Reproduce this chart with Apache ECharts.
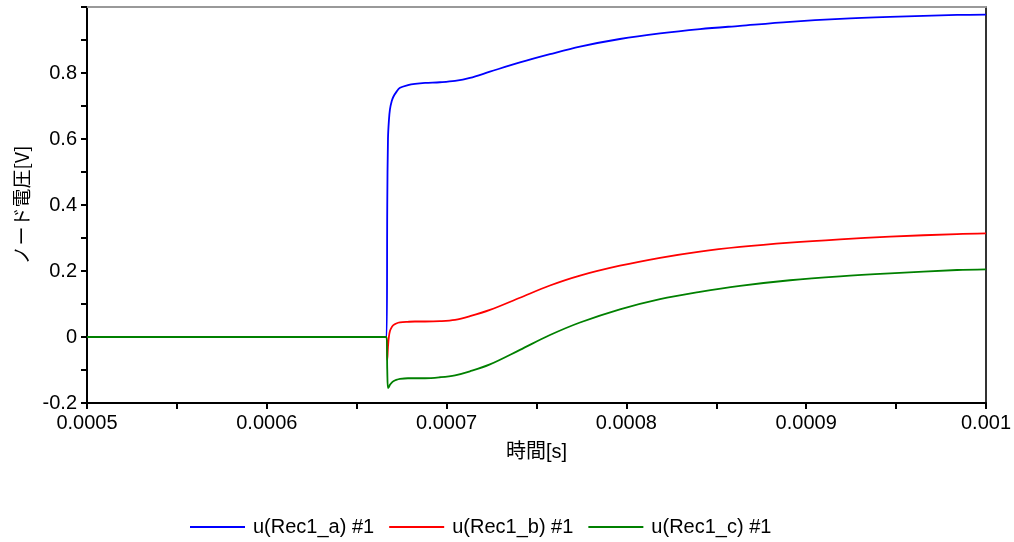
<!DOCTYPE html>
<html>
<head>
<meta charset="utf-8">
<script src="https://cdn.jsdelivr.net/npm/echarts@6/dist/echarts.min.js"></script>
<style>
html,body{margin:0;padding:0;background:#fff;}
#chart{width:1014px;height:542px;}
</style>
</head>
<body>
<div id="chart"></div>
<script>
// Time [s]
var times = [0.0005, 0.0006666, 0.0006670, 0.0006674, 0.0006679, 0.0006685, 0.0006695, 0.0006704,
  0.0006720, 0.0006741, 0.0006785, 0.0006824, 0.0006880, 0.0006963, 0.0007047, 0.0007130,
  0.0007241, 0.0007408, 0.0007575, 0.0007742, 0.0007964, 0.0008187, 0.0008409, 0.0008632,
  0.0008910, 0.0009188, 0.0009466, 0.0009839, 0.001];
// Node voltages [V]
var voltA = [0, 0, 0.40, 0.60, 0.655, 0.69, 0.715, 0.728, 0.742, 0.755, 0.763, 0.767, 0.770,
  0.772, 0.776, 0.785, 0.804, 0.832, 0.857, 0.880, 0.903, 0.920, 0.933, 0.943, 0.955,
  0.964, 0.970, 0.976, 0.977];
var voltB = [0, 0, -0.07, -0.03, 0.0, 0.018, 0.030, 0.036, 0.041, 0.044, 0.046, 0.047, 0.047,
  0.048, 0.052, 0.063, 0.082, 0.119, 0.156, 0.186, 0.216, 0.240, 0.259, 0.273, 0.286,
  0.296, 0.304, 0.312, 0.314];
var voltC = [0, 0, -0.10, -0.155, -0.152, -0.145, -0.138, -0.134, -0.130, -0.127, -0.125, -0.125, -0.125,
  -0.122, -0.116, -0.104, -0.083, -0.039, 0.006, 0.044, 0.084, 0.115, 0.137, 0.155, 0.172,
  0.184, 0.193, 0.203, 0.205];
var seriesNames = ['u(Rec1_a) #1', 'u(Rec1_b) #1', 'u(Rec1_c) #1'];
var seriesColors = ['#0000ff', '#ff0000', '#008000'];
var xName = '時間[s]';
var yName = 'ノード電圧[V]';

function zip(ys) { return times.map(function (t, i) { return [t, ys[i]]; }); }
var allVals = [voltA, voltB, voltC];

var font = '"Liberation Sans", Arial, "Noto Sans CJK JP", sans-serif';
var chart = echarts.init(document.getElementById('chart'), null, {renderer: 'canvas'});
chart.setOption({
  animation: false,
  backgroundColor: '#fff',
  grid: {left: 87, right: 28, top: 7, bottom: 139, containLabel: false},
  legend: {
    left: 190, top: 517, padding: 0,
    itemWidth: 55, itemHeight: 2, itemGap: 15,
    icon: 'rect',
    textStyle: {fontFamily: font, fontSize: 20, color: '#000', padding: [0, 0, 0, 3]},
    data: seriesNames
  },
  xAxis: [{
    type: 'value', min: 0.0005, max: 0.001, interval: 0.0001,
    name: xName, nameLocation: 'middle', nameGap: 39,
    nameTextStyle: {fontFamily: font, fontSize: 20, color: '#000'},
    axisLine: {show: true, onZero: false, lineStyle: {color: '#000', width: 2}},
    axisTick: {show: true, length: 6, lineStyle: {color: '#000', width: 2}},
    minorTick: {show: true, splitNumber: 2, length: 6, lineStyle: {color: '#000', width: 2}},
    splitLine: {show: false},
    axisLabel: {fontFamily: font, fontSize: 20, color: '#000', margin: 10,
      formatter: function (v) { return String(parseFloat(v.toFixed(5))); }}
  }, {
    type: 'value', min: 0.0005, max: 0.001, position: 'top',
    axisLine: {show: true, onZero: false, lineStyle: {color: '#999', width: 2}},
    axisTick: {show: false}, axisLabel: {show: false}, splitLine: {show: false}
  }],
  yAxis: [{
    type: 'value', min: -0.2, max: 1.0, interval: 0.2,
    name: yName, nameLocation: 'middle', nameGap: 55, nameRotate: 90,
    nameTextStyle: {fontFamily: '"Noto Sans CJK JP", "Liberation Sans", sans-serif', fontSize: 19, color: '#000'},
    axisLine: {show: true, onZero: false, lineStyle: {color: '#000', width: 2}},
    axisTick: {show: true, length: 6, lineStyle: {color: '#000', width: 2}},
    minorTick: {show: true, splitNumber: 2, length: 6, lineStyle: {color: '#000', width: 2}},
    splitLine: {show: false},
    axisLabel: {fontFamily: font, fontSize: 20, color: '#000', margin: 10,
      formatter: function (v) { return Math.abs(v - 1) < 1e-9 ? '' : String(parseFloat(v.toFixed(2))); }}
  }, {
    type: 'value', min: -0.2, max: 1.0, position: 'right',
    axisLine: {show: true, onZero: false, lineStyle: {color: '#333', width: 2}},
    axisTick: {show: false}, axisLabel: {show: false}, splitLine: {show: false}
  }],
  series: allVals.map(function (vals, i) {
    return {
      name: seriesNames[i], type: 'line', data: zip(vals),
      showSymbol: false, symbol: 'none', smooth: 0.35,
      xAxisIndex: 0, yAxisIndex: 0,
      lineStyle: {color: seriesColors[i], width: 1.8},
      itemStyle: {color: seriesColors[i]},
      z: 2 + i
    };
  })
});
</script>
</body>
</html>
